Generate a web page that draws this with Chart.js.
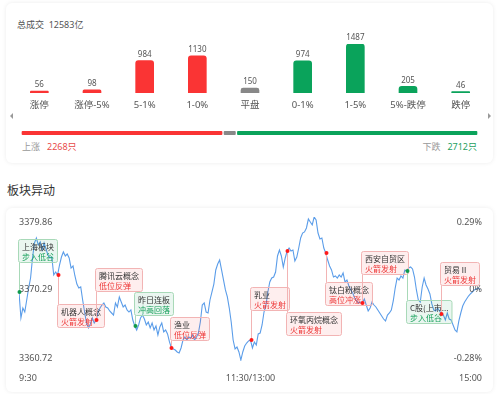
<!DOCTYPE html>
<html>
<head>
<meta charset="utf-8">
<script src="https://cdn.jsdelivr.net/npm/chart.js@4.4.1/dist/chart.umd.min.js"></script>
<style>
body{margin:0;width:500px;height:394px;background:#fff;position:relative;overflow:hidden;font-family:"Noto Sans","Noto Sans CJK SC",sans-serif;}
.card{position:absolute;left:6px;width:487px;background:#fff;border-radius:6px;box-shadow:0 0 4px rgba(0,0,0,0.08);}
.abs{position:absolute;white-space:nowrap;}
canvas{position:absolute;left:0;}
.arr{position:absolute;width:0;height:0;border-top:3px solid transparent;border-bottom:3px solid transparent;}
</style>
</head>
<body>
<div class="card" style="top:3px;height:160px;"></div>
<div class="card" style="top:208px;height:184px;"></div>

<div class="abs" style="left:17px;top:18px;font-size:9px;line-height:14px;color:#555;">总成交&nbsp;&nbsp;12583亿</div>
<div class="arr" style="left:10px;top:113px;border-right:3px solid #999;"></div>
<div class="arr" style="left:488px;top:113px;border-left:3px solid #999;"></div>
<div class="abs" style="left:22px;top:140px;font-size:9px;line-height:14px;color:#999;">上涨<span style="color:#e84a4a;margin-left:7px;">2268只</span></div>
<div class="abs" style="right:23px;top:140px;font-size:9px;line-height:14px;color:#999;">下跌<span style="color:#1f9f5f;margin-left:7px;">2712只</span></div>
<div class="abs" style="left:7px;top:183px;font-size:12px;line-height:16px;color:#333;">板块异动</div>

<canvas id="bars" width="500" height="120" style="top:0;"></canvas>
<canvas id="split" width="500" height="16" style="top:125px;"></canvas>
<canvas id="trend" width="500" height="194" style="top:200px;"></canvas>

<script>
// 涨跌分布
var groups = ['涨停', '涨停-5%', '5-1%', '1-0%', '平盘', '0-1%', '1-5%', '5%-跌停', '跌停'];
var counts = [56, 98, 984, 1130, 150, 974, 1487, 205, 46];
var upCount = 2268, flatCount = 150, downCount = 2712;

// 分时 (9:30 起每分钟)
var prevClose = 3370.29;
var priceTicks = [3379.86, 3370.29, 3360.72];
var pctTicks = ['0.29%', '0%', '-0.28%'];
var timeTicks = ['9:30', '11:30/13:00', '15:00'];
var prices = [
  3369.89, 3366.44, 3367.76, 3367.23, 3368.83, 3370.42, 3371.75, 3374.41, 3376.40, 3377.07,
  3376.14, 3376.54, 3375.47, 3376.40, 3375.61, 3374.81, 3374.41, 3374.54, 3372.15, 3372.55,
  3372.15, 3373.48, 3374.54, 3375.21, 3374.68, 3374.94, 3374.41, 3373.08, 3373.35, 3372.02,
  3370.95, 3370.42, 3370.56, 3368.83, 3367.23, 3365.77, 3365.11, 3365.64, 3366.44, 3365.77,
  3366.17, 3367.23, 3367.76, 3368.16, 3368.43, 3367.90, 3367.76, 3367.37, 3367.10, 3366.83,
  3368.43, 3367.90, 3369.23, 3368.56, 3367.90, 3368.16, 3367.50, 3367.23, 3367.50, 3366.17,
  3365.37, 3364.84, 3365.51, 3366.44, 3366.83, 3366.30, 3365.51, 3365.90, 3365.11, 3365.77,
  3364.84, 3365.37, 3364.18, 3365.24, 3365.77, 3364.58, 3364.84, 3364.31, 3363.25, 3362.45,
  3362.32, 3362.18, 3361.92, 3361.78, 3362.45, 3363.51, 3363.91, 3363.51, 3363.91, 3363.78,
  3364.18, 3363.51, 3363.91, 3364.44, 3365.90, 3368.16, 3368.43, 3367.23, 3367.10, 3368.83,
  3369.89, 3370.95, 3372.82, 3373.61, 3374.14, 3372.82, 3371.49, 3370.16, 3369.23, 3367.76,
  3365.90, 3363.51, 3362.32, 3362.58, 3361.92, 3360.85, 3361.92, 3362.71, 3363.11, 3363.38,
  3363.51, 3362.45, 3363.25, 3362.85, 3364.31, 3364.44, 3365.51, 3367.23, 3368.16, 3369.89,
  3371.22, 3371.75, 3371.88, 3372.55, 3374.68, 3375.47, 3374.68, 3373.21, 3374.41, 3375.34,
  3375.74, 3375.34, 3375.47, 3374.01, 3374.54, 3375.74, 3377.07, 3377.73, 3377.87, 3378.40,
  3379.59, 3379.19, 3378.80, 3379.86, 3379.46, 3377.73, 3376.94, 3377.07, 3375.74, 3375.07,
  3374.14, 3373.35, 3372.82, 3371.88, 3372.02, 3371.75, 3372.15, 3371.88, 3372.42, 3371.22,
  3371.49, 3370.69, 3370.16, 3369.76, 3369.09, 3368.70, 3368.43, 3368.56, 3368.43, 3368.96,
  3368.16, 3367.37, 3367.76, 3368.56, 3368.16, 3367.90, 3367.50, 3367.10, 3366.70, 3366.30,
  3366.04, 3366.83, 3367.10, 3367.50, 3368.70, 3370.42, 3371.75, 3371.49, 3372.02, 3371.75,
  3372.82, 3372.68, 3373.08, 3373.21, 3372.95, 3371.88, 3370.16, 3368.83, 3368.56, 3370.56,
  3371.75, 3370.82, 3370.29, 3369.63, 3368.30, 3367.50, 3367.37, 3367.76, 3367.37, 3366.97,
  3366.83, 3366.17, 3367.10, 3366.30, 3366.17, 3365.51, 3364.84, 3364.58, 3366.04, 3367.10,
  3368.03, 3368.56, 3368.96, 3369.36, 3369.63, 3369.89, 3370.16, 3370.29, 3370.42, 3370.16
];

// 异动事件
var eventMinute = [0, 20, 40, 60, 79, 120, 139, 159, 178, 201, 219];
var eventName = ['上海板块', '机器人概念', '腾讯云概念', '昨日连板', '渔业', '乳业', '环氧丙烷概念', '钛白粉概念', '西安自贸区', 'C股(上市...', '贸易Ⅱ'];
var eventTag = ['步入低谷', '火箭发射', '低位反弹', '冲高回落', '低位反弹', '火箭发射', '火箭发射', '高位冲涨', '火箭发射', '步入低谷', '火箭发射'];
var eventUp = [false, true, true, false, true, true, true, true, true, false, true];
// box placement, px from the point (negative = above)
var eventOffset = [-30, 29, -29, -11, -8, -30, 61, 29, -29, 29, -29];

var RED = '#fa3434', GREEN = '#0aa35b', GRAY = '#888888';
var FONT = '"Noto Sans", "Noto Sans CJK SC", sans-serif';

// ---------- bar chart ----------
var barColors = counts.map(function(v, i) { return i < 4 ? RED : (i == 4 ? GRAY : GREEN); });

var barText = {
  id: 'barText',
  afterDatasetsDraw: function(chart) {
    var ctx = chart.ctx;
    var meta = chart.getDatasetMeta(0);
    ctx.save();
    ctx.textAlign = 'center';
    ctx.textBaseline = 'middle';
    ctx.fillStyle = '#555';
    meta.data.forEach(function(bar, i) {
      ctx.font = '8px ' + FONT;
      ctx.fillText(counts[i], bar.x, bar.y - 6);
      ctx.font = '9.5px ' + FONT;
      ctx.fillText(groups[i], bar.x, 105);
    });
    ctx.restore();
  }
};

new Chart(document.getElementById('bars'), {
  type: 'bar',
  data: {
    labels: groups,
    datasets: [{
      data: counts,
      backgroundColor: barColors,
      barThickness: 18,
      borderRadius: {topLeft: 3, topRight: 3, bottomLeft: 0, bottomRight: 0},
      borderSkipped: false
    }]
  },
  options: {
    responsive: false,
    animation: false,
    layout: {padding: {left: 13, right: 13, top: 44, bottom: 27}},
    plugins: {legend: {display: false}, tooltip: {enabled: false}},
    scales: {
      x: {display: false},
      y: {display: false, min: 0, max: Math.max.apply(null, counts)}
    }
  },
  plugins: [barText]
});

// ---------- up / flat / down split ----------
var segRadius = {topLeft: 2, topRight: 2, bottomLeft: 2, bottomRight: 2};
function seg(v, c) {
  return {data: [v], backgroundColor: c, borderColor: '#fff', borderWidth: {left: 1, right: 1, top: 0, bottom: 0},
    borderRadius: segRadius, borderSkipped: false, barPercentage: 1, categoryPercentage: 1};
}
new Chart(document.getElementById('split'), {
  type: 'bar',
  data: {
    labels: ['all'],
    datasets: [seg(upCount, RED), seg(flatCount, GRAY), seg(downCount, GREEN)]
  },
  options: {
    indexAxis: 'y',
    responsive: false,
    animation: false,
    layout: {padding: {left: 21, right: 22, top: 6, bottom: 6}},
    plugins: {legend: {display: false}, tooltip: {enabled: false}},
    scales: {
      x: {display: false, stacked: true, min: 0, max: upCount + flatCount + downCount},
      y: {display: false, stacked: true}
    }
  }
});

// ---------- intraday line ----------
var trendText = {
  id: 'trendText',
  afterDatasetsDraw: function(chart) {
    var ctx = chart.ctx, xs = chart.scales.x, ys = chart.scales.y, area = chart.chartArea;
    ctx.save();
    // axis labels
    ctx.font = '9px ' + FONT;
    ctx.fillStyle = '#555';
    ctx.textBaseline = 'middle';
    var shift = [5, 0, -3];
    priceTicks.forEach(function(v, i) {
      var y = ys.getPixelForValue(v) + shift[i];
      ctx.textAlign = 'left';
      ctx.fillText(v.toFixed(2), area.left, y);
      ctx.textAlign = 'right';
      ctx.fillText(pctTicks[i], area.right, y);
    });
    var tx = [xs.getPixelForValue(0), xs.getPixelForValue(120), area.right];
    var ta = ['left', 'center', 'right'];
    timeTicks.forEach(function(t, i) {
      ctx.textAlign = ta[i];
      ctx.fillText(t, tx[i], 378 - 200);
    });

    // events
    ctx.font = '8px "Noto Sans CJK SC", sans-serif';
    ctx.lineWidth = 1;
    eventMinute.forEach(function(m, i) {
      var px = Math.round(xs.getPixelForValue(m)) + 0.5;
      var py = ys.getPixelForValue(prices[m]);
      var off = eventOffset[i];
      var w = Math.max(ctx.measureText(eventName[i]).width, ctx.measureText(eventTag[i]).width) + 7;
      var h = 23;
      var top = off < 0 ? Math.round(py + off - h) + 0.5 : Math.round(py + off) + 0.5;
      var edge = off < 0 ? top + h : top;
      var line = eventUp[i] ? '#f2b4b4' : '#a8d9b8';
      ctx.strokeStyle = line;
      ctx.beginPath();
      ctx.moveTo(px, py);
      ctx.lineTo(px, edge);
      ctx.stroke();
      ctx.fillStyle = eventUp[i] ? 'rgba(240,70,70,0.09)' : 'rgba(20,160,90,0.09)';
      ctx.beginPath();
      ctx.roundRect(px - 1, top, w, h, 2);
      ctx.fill();
      ctx.stroke();
      ctx.textAlign = 'left';
      ctx.fillStyle = '#333';
      ctx.fillText(eventName[i], px + 2.5, top + 7);
      ctx.fillStyle = eventUp[i] ? '#ee3737' : '#16a05a';
      ctx.fillText(eventTag[i], px + 2.5, top + 17);
      ctx.fillStyle = eventUp[i] ? '#ff1a1a' : '#109a4c';
      ctx.beginPath();
      ctx.arc(px, py, 2, 0, Math.PI * 2);
      ctx.fill();
    });
    ctx.restore();
  }
};

new Chart(document.getElementById('trend'), {
  type: 'line',
  data: {
    datasets: [{
      data: prices.map(function(p, i) { return {x: i, y: p}; }),
      borderColor: '#5b9de9',
      borderWidth: 1.1,
      pointRadius: 0,
      tension: 0,
      fill: false
    }]
  },
  options: {
    responsive: false,
    animation: false,
    layout: {padding: {left: 19, right: 18, top: 17, bottom: 33}},
    plugins: {legend: {display: false}, tooltip: {enabled: false}},
    scales: {
      x: {type: 'linear', display: false, min: 0, max: 240},
      y: {display: false, min: priceTicks[2], max: priceTicks[0]}
    }
  },
  plugins: [trendText]
});
</script>
</body>
</html>
